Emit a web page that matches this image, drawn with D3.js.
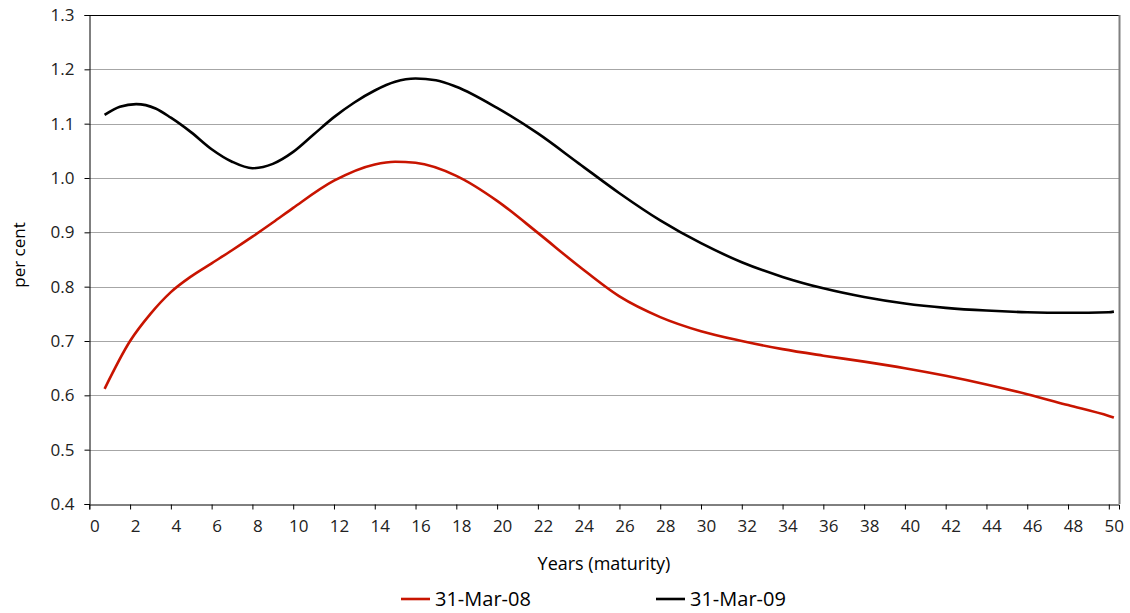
<!DOCTYPE html>
<html><head><meta charset="utf-8">
<script src="https://cdn.jsdelivr.net/npm/d3@7"></script>
<style>body{margin:0;background:#fff}svg{display:block;font-family:"Open Sans","Noto Sans",sans-serif}</style>
</head><body><svg id="c" width="1130" height="613"></svg>
<script>
const seriesNames = ["31-Mar-08", "31-Mar-09"];
const seriesColors = ["#c81400", "#000000"];
const years08 = [0.75, 2, 3, 4, 5, 6, 7, 8, 9, 10, 12, 14, 15, 16, 18, 20, 22, 24, 26, 28, 30, 32, 34, 36, 38, 40, 42, 44, 46, 48, 50, 50.25];
const values08 = [0.612, 0.700, 0.750, 0.790, 0.819, 0.843, 0.867, 0.892, 0.918, 0.945, 0.995, 1.025, 1.030, 1.028, 1.004, 0.958, 0.899, 0.838, 0.782, 0.744, 0.718, 0.700, 0.685, 0.673, 0.662, 0.650, 0.636, 0.620, 0.602, 0.582, 0.562, 0.559];
const years09 = [0.75, 1.5, 2.3, 3.25, 4, 5, 6, 7, 8, 9, 10, 11, 12, 13, 14, 15, 16, 17, 18, 20, 22, 24, 26, 28, 30, 32, 34, 36, 38, 40, 42, 44, 46, 48, 50, 50.25];
const values09 = [1.116, 1.131, 1.136, 1.128, 1.111, 1.084, 1.053, 1.030, 1.018, 1.026, 1.048, 1.080, 1.112, 1.139, 1.161, 1.177, 1.183, 1.180, 1.168, 1.129, 1.082, 1.027, 0.972, 0.922, 0.880, 0.845, 0.818, 0.797, 0.781, 0.769, 0.761, 0.756, 0.753, 0.752, 0.753, 0.754];
const xTicks = d3.range(0, 51, 2);
const yTicks = [0.4, 0.5, 0.6, 0.7, 0.8, 0.9, 1.0, 1.1, 1.2, 1.3];
const xTitle = "Years (maturity)";
const yTitle = "per cent";

const L = 89, R = 1119, T = 15, B = 504;
const FONT = "'Open Sans','Noto Sans',sans-serif";
const svg = d3.select("#c");
const x = d3.scaleLinear().domain([0, 50.5]).range([L + 0.3, R]);
const y = d3.scaleLinear().domain([0.4, 1.3]).range([B, T]);

// gridlines
svg.append("g").selectAll("line").data(yTicks.filter(v => v > 0.4 && v < 1.3)).join("line")
  .attr("x1", L).attr("x2", R).attr("y1", d => Math.round(y(d)) + 0.5).attr("y2", d => Math.round(y(d)) + 0.5)
  .attr("stroke", "#a6a6a6").attr("stroke-width", 1);

// top and right border
svg.append("line").attr("x1", L).attr("x2", R).attr("y1", T + 0.5).attr("y2", T + 0.5).attr("stroke", "#000");
svg.append("line").attr("x1", R + 0.5).attr("x2", R + 0.5).attr("y1", T).attr("y2", B).attr("stroke", "#808080").attr("stroke-width", 2);

// y axis
const yAxis = d3.axisLeft(y).tickValues(yTicks).tickFormat(d3.format(".1f")).tickSize(5).tickPadding(10);
const gy = svg.append("g").attr("transform", `translate(${L + 0.5},0)`).call(yAxis);
gy.selectAll("text").attr("font-size", 17).attr("fill", "#222").attr("font-family", FONT);
gy.select(".domain").attr("stroke", "#000");

// x axis
const xAxis = d3.axisBottom(x).tickValues(xTicks).tickFormat(d3.format("d")).tickSize(5).tickPadding(10);
const gx = svg.append("g").attr("transform", `translate(0,${B + 0.5})`).call(xAxis);
gx.selectAll("text").attr("font-size", 17).attr("fill", "#222").attr("dx", 5).attr("font-family", FONT);
gx.select(".domain").attr("stroke", "#000");

// lines
const line = d3.line().x(d => x(d[0])).y(d => y(d[1])).curve(d3.curveMonotoneX);
const data = [d3.zip(years08, values08), d3.zip(years09, values09)];
svg.append("g").selectAll("path").data(data).join("path")
  .attr("d", line).attr("fill", "none")
  .attr("stroke", (d, i) => seriesColors[i]).attr("stroke-width", 2.6).attr("stroke-linejoin", "round");

// titles
svg.append("text").attr("x", 604).attr("y", 570).attr("text-anchor", "middle").attr("font-size", 18).attr("fill", "#000").text(xTitle);
svg.append("text").attr("transform", "translate(25,255) rotate(-90)").attr("text-anchor", "middle").attr("font-size", 17).attr("fill", "#000").text(yTitle);

// legend
const legX = [401, 656];
const lg = svg.append("g").selectAll("g").data(seriesNames).join("g").attr("transform", (d, i) => `translate(${legX[i]},599)`);
lg.append("line").attr("x1", 0).attr("x2", 29).attr("stroke", (d, i) => seriesColors[i]).attr("stroke-width", 2.6);
lg.append("text").attr("x", 34).attr("y", 7).attr("font-size", 20).attr("fill", "#000").text(d => d);
</script></body></html>
